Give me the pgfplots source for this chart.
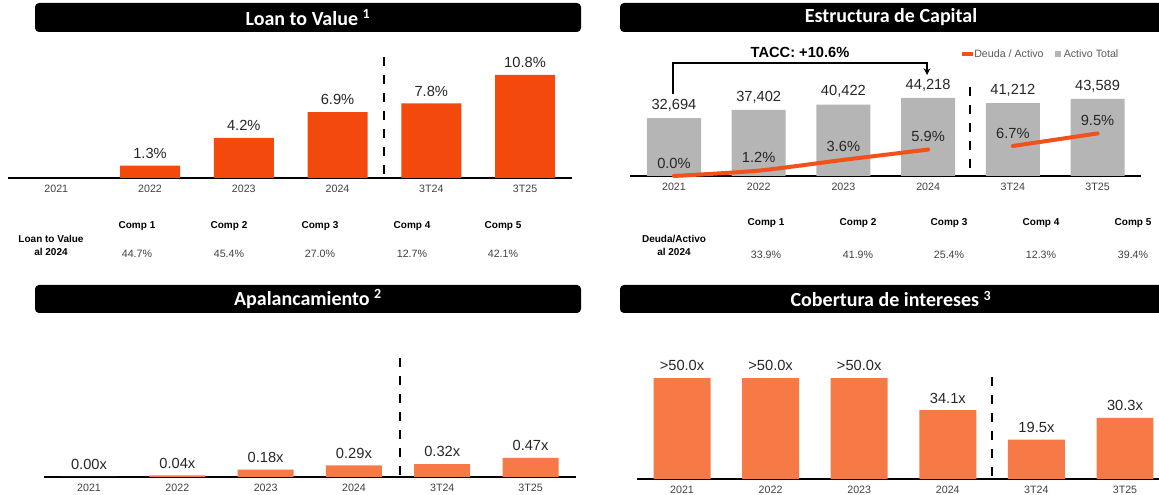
\documentclass[border=0pt]{standalone}
\usepackage{fontspec}
\setmainfont{Liberation Sans}
\newfontfamily\titlefont{Carlito}
\usepackage{pgfplots}
\pgfplotsset{compat=1.18}
\usetikzlibrary{arrows.meta}
\definecolor{ltvorange}{HTML}{F4490C}
\definecolor{lightorange}{HTML}{F77A46}
\definecolor{lineorange}{HTML}{F2511B}
\definecolor{barg}{HTML}{B5B5B5}
\definecolor{valtxt}{HTML}{262626}
\definecolor{cattxt}{HTML}{404040}
\definecolor{legtxt}{HTML}{595959}

\tikzset{divider/.style={black, line width=1.5pt, dash pattern=on 7pt off 6.5pt}}
\pgfplotsset{
  panel/.style={
    scale only axis, anchor=south west,
    axis x line*=bottom, axis y line=none,
    axis line style={line width=1.5pt, black, -},
    xtick={0,...,5},
    xticklabels={2021,2022,2023,2024,3T24,3T25},
    major tick length=0pt,
    xticklabel style={font=\fontsize{8}{9}\selectfont, text=cattxt, yshift=-2pt},
    ymin=0, clip=false, enlargelimits=false,
    /pgf/number format/assume math mode=true,
    every node near coord/.append style={font=\fontsize{11}{13}\selectfont, text=valtxt, inner sep=0pt, anchor=south, yshift=5pt},
  },
}

\begin{document}
\begin{tikzpicture}[x=0.75pt,y=0.75pt]
\clip (0,0) rectangle (1159,495);

% ---------- title bars ----------
\fill[black, rounded corners=3pt] (35,463) rectangle (581,492);
\fill[black, rounded corners=3pt] (620,463) rectangle (1170,492);
\fill[black, rounded corners=3pt] (35,182) rectangle (581,210);
\fill[black, rounded corners=3pt] (620,182) rectangle (1170,210);
\begin{scope}[every node/.style={text=white, font=\titlefont\bfseries\fontsize{15}{18}\selectfont}]
\node at (308,477.5) {Loan to Value \textsuperscript{1}};
\node at (891,477.5) {Estructura de Capital};
\node at (308,196) {Apalancamiento \textsuperscript{2}};
\node at (891,196) {Cobertura de intereses \textsuperscript{3}};
\end{scope}

% ---------- Loan to Value ----------
\begin{axis}[panel, ybar, at={(6pt,237.75pt)}, width=423pt, height=90.75pt,
  xmin=-0.515, xmax=5.501, ymax=12.66, bar width=0.64,
  nodes near coords={\pgfmathprintnumber[fixed,fixed zerofill,precision=1]{\pgfplotspointmeta}\%}]
\addplot[fill=ltvorange, draw=none] coordinates {(1,1.3) (2,4.2) (3,6.9) (4,7.8) (5,10.8)};
\draw[divider] (axis cs:3.5,12.66) -- (axis cs:3.5,0);
\end{axis}

% ---------- Estructura de Capital ----------
\begin{axis}[panel, ybar, at={(472.5pt,239.25pt)}, width=383.25pt, height=66.75pt,
  xmin=-0.519, xmax=5.513, ymax=50340, bar width=0.638,
  nodes near coords={\pgfmathprintnumber[fixed,precision=0,1000 sep={,}]{\pgfplotspointmeta}}]
\addplot[fill=barg, draw=none] coordinates {(0,32694) (1,37402) (2,40422) (3,44218) (4,41212) (5,43589)};
\draw[divider] (axis cs:3.5,50340) -- (axis cs:3.5,0);
\end{axis}
\begin{axis}[scale only axis, anchor=south west, at={(472.5pt,239.25pt)}, width=383.25pt, height=66.75pt,
  xmin=-0.519, xmax=5.513, ymin=0, ymax=19.87, hide axis, clip=false,
  /pgf/number format/assume math mode=true,
  every node near coord/.append style={font=\fontsize{11}{13}\selectfont, text=valtxt, inner sep=0pt, anchor=south, yshift=4.3pt},
  nodes near coords={\pgfmathprintnumber[fixed,fixed zerofill,precision=1]{\pgfplotspointmeta}\%}]
\addplot[lineorange, line width=3pt, line cap=round, smooth, tension=0.4, mark=none] coordinates {(0,0) (1,1.2) (2,3.6) (3,5.9)};
\addplot[lineorange, line width=3pt, line cap=round, mark=none] coordinates {(4,6.7) (5,9.5)};
\end{axis}

% TACC annotation
\draw[black, line width=0.8pt, -{Stealth[length=5pt,width=5pt]}] (673,401) -- (673,432) -- (927,432) -- (927,420);
\node[font=\bfseries\fontsize{11}{13}\selectfont, text=black] at (800,443) {TACC: +10.6\%};
% legend
\draw[lineorange, line width=3pt] (962,441) -- (973,441);
\node[anchor=west, inner sep=0pt, font=\fontsize{8}{10}\selectfont, text=legtxt] at (974,441) {Deuda / Activo};
\fill[barg] (1055,438) rectangle (1061,444);
\node[anchor=west, inner sep=0pt, font=\fontsize{8}{10}\selectfont, text=legtxt] at (1063.5,441) {Activo Total};

% ---------- comparables ----------
\begin{scope}[every node/.style={inner sep=0pt}]
\foreach \x/\h/\v in {137/Comp 1/44.7\%, 229/Comp 2/45.4\%, 320/Comp 3/27.0\%, 412/Comp 4/12.7\%, 503/Comp 5/42.1\%}{
  \node[font=\bfseries\fontsize{7.5}{9}\selectfont, text=black] at (\x,269) {\h};
  \node[font=\fontsize{8}{10}\selectfont, text=cattxt] at (\x,241) {\v};
}
\node[font=\bfseries\fontsize{7.5}{9}\selectfont, align=center, text=black] at (51,249.5) {Loan to Value\\[1pt]al 2024};
\foreach \x/\h/\v in {766/Comp 1/33.9\%, 858/Comp 2/41.9\%, 949/Comp 3/25.4\%, 1041/Comp 4/12.3\%, 1133/Comp 5/39.4\%}{
  \node[font=\bfseries\fontsize{7.5}{9}\selectfont, text=black] at (\x,272) {\h};
  \node[font=\fontsize{8}{10}\selectfont, text=cattxt] at (\x,240) {\v};
}
\node[font=\bfseries\fontsize{7.5}{9}\selectfont, align=center, text=black] at (674,249.5) {Deuda/Activo\\[1pt]al 2024};
\end{scope}

% ---------- Apalancamiento ----------
\begin{axis}[panel, ybar, at={(33pt,13.5pt)}, width=399pt, height=89.25pt,
  xmin=-0.51, xmax=5.515, ymax=2.94, bar width=0.634,
  nodes near coords={\pgfmathprintnumber[fixed,fixed zerofill,precision=2]{\pgfplotspointmeta}x}]
\addplot[fill=lightorange, draw=none] coordinates {(0,0.00) (1,0.04) (2,0.18) (3,0.29) (4,0.32) (5,0.47)};
\draw[divider] (axis cs:3.52,2.94) -- (axis cs:3.52,0);
\end{axis}

% ---------- Cobertura de intereses ----------
\begin{axis}[panel, ybar, at={(477.75pt,12pt)}, width=391.5pt, height=76.5pt,
  xmin=-0.508, xmax=5.384, ymax=50.5, bar width=0.643,
  point meta=explicit symbolic, nodes near coords]
\addplot[fill=lightorange, draw=none] table[meta=lab] {
x y lab
0 50 >50.0x
1 50 >50.0x
2 50 >50.0x
3 34.1 34.1x
4 19.5 19.5x
5 30.3 30.3x
};
\draw[divider] (axis cs:3.5,50.5) -- (axis cs:3.5,0);
\end{axis}
\end{tikzpicture}
\end{document}
